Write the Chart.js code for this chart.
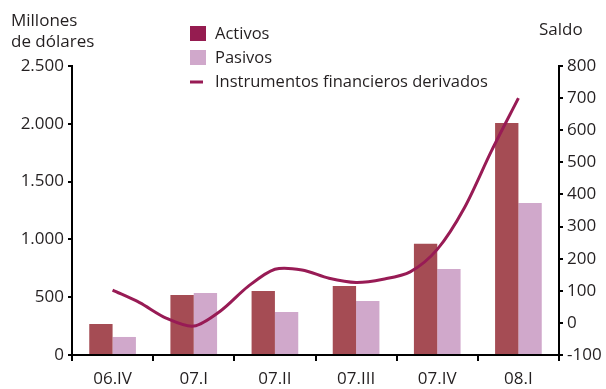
<!DOCTYPE html>
<html>
<head>
<meta charset="utf-8">
<script src="https://cdn.jsdelivr.net/npm/chart.js@4"></script>
<style>
  html, body { margin: 0; padding: 0; background: #fff; }
  #wrap { width: 606px; height: 389px; position: relative; }
</style>
</head>
<body>
<div id="wrap"><canvas id="c" width="606" height="389"></canvas></div>
<script>
// Quarters on the category axis
const categories = ['06.IV', '07.I', '07.II', '07.III', '07.IV', '08.I'];
// Stocks, millions of dollars (left axis)
const activos = [268, 519, 554, 597, 962, 2008];
const pasivos = [156, 536, 372, 467, 744, 1315];
// Monthly net balance of financial derivatives (right axis), Dec-06 .. Mar-08
const derivados = [102, 63, 14, -10, 38, 113, 167, 165, 139, 126, 136, 159, 229, 358, 535, 700];

const leftTicks = [0, 500, 1000, 1500, 2000, 2500];
const rightTicks = [-100, 0, 100, 200, 300, 400, 500, 600, 700, 800];

const FONT = '"Open Sans", "Noto Sans", sans-serif';
const TXT = '#231f20';
const C_ACT = '#a54c54';
const C_ACT_KEY = '#951c50';
const C_PAS = '#d0a8cb';
const C_LINE = '#981b55';

const fmt = v => String(v).replace(/\B(?=(\d{3})+(?!\d))/g, '.');

// months expressed in quarter-index units, so each point falls between the quarter slots
const derivadosPts = derivados.map((v, i) => ({ x: i / 3, y: v }));

const overlay = {
  id: 'overlay',
  afterDraw(chart) {
    const ctx = chart.ctx;
    ctx.save();
    ctx.fillStyle = TXT;
    ctx.font = '17px ' + FONT;
    ctx.textBaseline = 'middle';
    ctx.textAlign = 'left';
    ctx.fillText('Millones', 11, 21);
    ctx.fillText('de dólares', 11, 42);
    ctx.fillText('Saldo', 539, 30);

    // legend
    ctx.font = '16.5px ' + FONT;
    const items = [
      { label: 'Activos', kind: 'box', color: C_ACT_KEY, y: 34 },
      { label: 'Pasivos', kind: 'box', color: C_PAS, y: 58 },
      { label: 'Instrumentos financieros derivados', kind: 'line', color: C_LINE, y: 82 }
    ];
    items.forEach(it => {
      ctx.fillStyle = it.color;
      if (it.kind === 'box') {
        ctx.fillRect(190, it.y - 8, 16, 15);
      } else {
        ctx.fillRect(190, it.y - 1.5, 13, 3);
      }
      ctx.fillStyle = TXT;
      ctx.fillText(it.label, 215, it.y);
    });
    ctx.restore();
  }
};

new Chart(document.getElementById('c'), {
  type: 'bar',
  data: {
    labels: categories,
    datasets: [
      {
        label: 'Activos',
        data: activos,
        backgroundColor: C_ACT,
        yAxisID: 'y',
        categoryPercentage: 0.575,
        barPercentage: 1.0,
        order: 2
      },
      {
        label: 'Pasivos',
        data: pasivos,
        backgroundColor: C_PAS,
        yAxisID: 'y',
        categoryPercentage: 0.575,
        barPercentage: 1.0,
        order: 2
      },
      {
        type: 'line',
        label: 'Instrumentos financieros derivados',
        data: derivadosPts,
        parsing: false,
        xAxisID: 'x',
        yAxisID: 'y1',
        borderColor: C_LINE,
        borderWidth: 3,
        pointRadius: 0,
        tension: 0.3,
        fill: false,
        order: 1
      }
    ]
  },
  options: {
    responsive: false,
    animation: false,
    layout: { padding: { top: 66, left: 0, right: 0, bottom: 0 } },
    plugins: {
      legend: { display: false },
      tooltip: { enabled: false }
    },
    scales: {
      x: {
        type: 'category',
        offset: true,
        grid: { display: true, drawOnChartArea: false, drawTicks: true, tickLength: 6, color: '#000', lineWidth: 2, offset: true },
        border: { display: true, color: '#000', width: 2 },
        ticks: { color: TXT, font: { family: FONT, size: 17 }, padding: 8, maxRotation: 0 },
        afterFit(s) { s.height = 34; }
      },
      y: {
        position: 'left',
        min: 0,
        max: 2500,
        afterBuildTicks(s) { s.ticks = leftTicks.map(v => ({ value: v })); },
        grid: { drawOnChartArea: false, drawTicks: true, tickLength: 4, color: '#000', lineWidth: 2 },
        border: { display: true, color: '#000', width: 2 },
        ticks: { color: TXT, font: { family: FONT, size: 17 }, padding: 4, callback: v => fmt(v) },
        afterFit(s) { s.width = 72; }
      },
      y1: {
        position: 'right',
        min: -100,
        max: 800,
        afterBuildTicks(s) { s.ticks = rightTicks.map(v => ({ value: v })); },
        grid: { drawOnChartArea: false, drawTicks: true, tickLength: 4, color: '#000', lineWidth: 2 },
        border: { display: true, color: '#000', width: 2 },
        ticks: { color: TXT, font: { family: FONT, size: 17 }, padding: 4 },
        afterFit(s) { s.width = 47; }
      }
    }
  },
  plugins: [overlay]
});
</script>
</body>
</html>
